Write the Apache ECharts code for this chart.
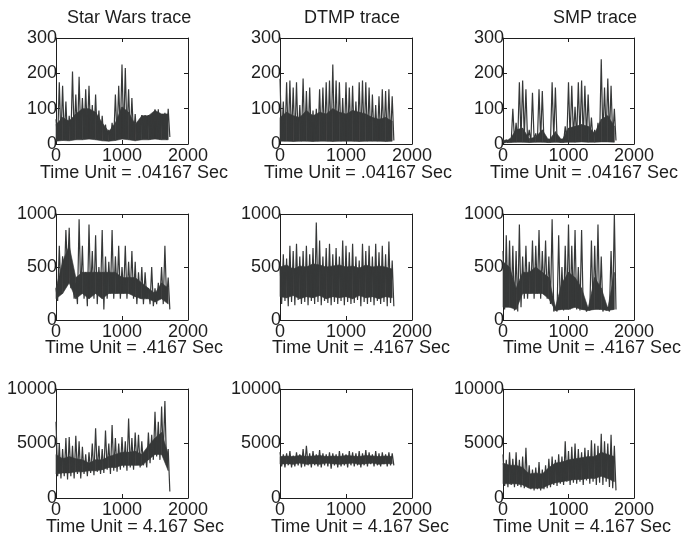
<!DOCTYPE html>
<html>
<head>
<meta charset="utf-8">
<script src="https://cdn.jsdelivr.net/npm/echarts@6/dist/echarts.min.js"></script>
<style>
  html, body { margin: 0; padding: 0; background: #fff; }
  #chart { width: 686px; height: 539px; }
</style>
</head>
<body>
<div id="chart"></div>
<script>
// spike samples, one every STEP time units (peak / trough alternating)
const STEP = 25;
// the solid body of each trace (lower / upper edge), one every CORE_STEP time units
const CORE_STEP = 100;

const columnTitles = ['Star Wars trace', 'DTMP trace', 'SMP trace'];
const timeUnits = ['Time Unit = .04167 Sec', 'Time Unit = .4167 Sec', 'Time Unit = 4.167 Sec'];
const yMax = [300, 1000, 10000];
const yInterval = [100, 500, 5000];
const xMax = 2000;
const xInterval = 1000;

// row 1: .04167 sec
const starWars1 = [70, 10, 175, 12, 165, 15, 120, 10, 80, 12, 205, 20, 140, 15, 190, 25, 130, 20, 155, 30,
  165, 25, 110, 20, 140, 20, 95, 15, 80, 12, 55, 10, 40, 10, 60, 15, 140, 20, 165, 30,
  225, 25, 215, 30, 155, 20, 130, 20, 85, 12, 50, 12, 82, 14, 82, 14, 82, 12, 85, 14,
  98, 15, 98, 12, 85, 15, 88, 12, 100, 20];
const starWars1Lo = [8, 10, 9, 12, 12, 14, 12, 9, 8, 10, 14, 12, 9, 12, 12, 14, 12, 12];
const starWars1Hi = [55, 75, 65, 85, 100, 100, 90, 60, 35, 60, 105, 90, 55, 80, 80, 95, 85, 85];
const dtmp1 = [185, 10, 120, 8, 175, 10, 180, 12, 160, 8, 175, 10, 110, 8, 185, 12, 150, 10, 160, 8,
  95, 10, 100, 8, 155, 12, 160, 10, 175, 8, 180, 10, 225, 12, 180, 10, 175, 8, 130, 10,
  175, 12, 160, 10, 165, 8, 120, 10, 175, 12, 180, 10, 175, 8, 160, 10, 140, 12, 110, 8,
  135, 10, 155, 10, 150, 8, 155, 10, 135, 10];
const dtmp1Lo = [8, 8, 7, 8, 8, 7, 8, 8, 7, 8, 8, 8, 7, 8, 8, 8, 7, 8];
const dtmp1Hi = [75, 90, 80, 75, 95, 80, 90, 85, 100, 90, 85, 95, 90, 85, 75, 70, 75, 65];
const smp1 = [15, 3, 12, 4, 15, 5, 100, 10, 60, 8, 175, 15, 180, 20, 155, 10, 40, 5, 145, 10,
  30, 8, 155, 10, 150, 8, 20, 5, 15, 5, 175, 15, 160, 10, 20, 5, 15, 5, 50, 10,
  175, 15, 165, 20, 105, 15, 175, 20, 180, 15, 165, 20, 140, 15, 75, 10, 40, 8, 60, 15,
  240, 20, 160, 25, 185, 20, 165, 15, 100, 10];
const smp1Lo = [4, 4, 5, 5, 4, 5, 5, 4, 5, 4, 5, 5, 6, 5, 5, 6, 6, 5];
const smp1Hi = [10, 12, 40, 45, 15, 20, 40, 10, 35, 10, 45, 50, 55, 50, 30, 70, 80, 50];

// row 2: .4167 sec
const starWars2 = [300, 180, 700, 250, 600, 350, 850, 450, 870, 300, 420, 200, 350, 150, 950, 250, 700, 200, 450, 130,
  900, 250, 650, 200, 800, 150, 500, 250, 850, 100, 600, 200, 550, 250, 850, 200, 600, 250, 700, 200,
  500, 250, 700, 200, 550, 250, 650, 200, 550, 150, 450, 200, 500, 150, 450, 200, 300, 150, 500, 130,
  300, 150, 350, 200, 500, 150, 700, 200, 400, 100];
const starWars2Lo = [200, 250, 350, 200, 250, 200, 250, 200, 250, 250, 250, 250, 220, 200, 200, 170, 200, 150];
const starWars2Hi = [300, 550, 700, 400, 450, 450, 450, 450, 450, 450, 400, 400, 400, 350, 300, 250, 350, 300];
const dtmp2 = [550, 150, 620, 180, 580, 130, 700, 170, 650, 140, 720, 190, 600, 150, 650, 170, 700, 140, 620, 180,
  680, 150, 920, 170, 750, 140, 600, 180, 680, 160, 720, 140, 620, 170, 680, 150, 600, 180, 750, 140,
  700, 170, 640, 150, 720, 160, 600, 190, 560, 130, 720, 170, 650, 150, 700, 170, 600, 140, 720, 180,
  640, 150, 700, 170, 620, 130, 740, 160, 560, 130];
const dtmp2Lo = [220, 210, 230, 200, 220, 210, 230, 200, 220, 210, 220, 200, 230, 210, 220, 200, 220, 210];
const dtmp2Hi = [500, 520, 480, 510, 500, 530, 520, 500, 510, 520, 500, 510, 490, 520, 500, 510, 500, 480];
const smp2 = [650, 100, 800, 150, 750, 120, 700, 90, 650, 80, 900, 120, 600, 200, 700, 200, 550, 250, 750, 200,
  700, 250, 850, 200, 650, 250, 750, 200, 600, 150, 950, 80, 120, 80, 800, 100, 500, 90, 700, 120,
  900, 100, 700, 150, 850, 100, 500, 90, 850, 100, 150, 80, 120, 90, 750, 100, 700, 120, 900, 100,
  600, 80, 150, 90, 120, 80, 650, 100, 1000, 100];
const smp2Lo = [120, 120, 100, 250, 250, 250, 250, 200, 90, 100, 100, 120, 100, 90, 100, 100, 90, 100];
const smp2Hi = [550, 500, 300, 450, 450, 500, 450, 400, 120, 350, 450, 400, 300, 110, 400, 300, 110, 450];

// row 3: 4.167 sec
const starWars3 = [7000, 2000, 5000, 1800, 4500, 2000, 5500, 1700, 5600, 2000, 4800, 1800, 5700, 2200, 5200, 1800, 4700, 2200, 4000, 2000,
  4200, 2300, 5000, 2100, 6400, 2400, 4800, 2200, 4500, 2300, 6200, 2600, 5000, 2200, 6700, 2500, 5500, 2400, 5000, 2600,
  5600, 2800, 5200, 2500, 7300, 2800, 5500, 2600, 6000, 3000, 5800, 2800, 5200, 3000, 4000, 2800, 6000, 3200, 5800, 3500,
  7900, 3800, 7000, 3500, 8400, 4000, 8900, 3000, 4500, 600];
const starWars3Lo = [2200, 2300, 2300, 2400, 2400, 2500, 2500, 2600, 2800, 2800, 3000, 3000, 3000, 3000, 3500, 4000, 4000, 2500];
const starWars3Hi = [4000, 3600, 3800, 3600, 3500, 3200, 3500, 3500, 3800, 4000, 4200, 4200, 4300, 4000, 4800, 5500, 6000, 4000];
const dtmp3 = [4200, 2900, 4000, 2800, 4100, 3000, 4300, 2800, 3900, 2900, 4200, 3000, 4000, 2800, 4500, 2900, 4800, 3000, 4100, 2800,
  4300, 3000, 4000, 2900, 4400, 2800, 4100, 3000, 4000, 2900, 4200, 2700, 4100, 3000, 4000, 2800, 4300, 2900, 4100, 3000,
  4000, 2800, 4300, 3000, 4200, 2900, 4100, 3000, 4300, 2800, 4100, 3000, 4400, 2900, 4200, 3100, 4000, 2900, 4300, 3000,
  4100, 2900, 4200, 3100, 4000, 2900, 4200, 3000, 4100, 3000];
const dtmp3Lo = [3100, 3150, 3100, 3200, 3100, 3150, 3100, 3200, 3150, 3100, 3150, 3200, 3100, 3150, 3200, 3100, 3150, 3150];
const dtmp3Hi = [3800, 3850, 3800, 3900, 3800, 3850, 3900, 3800, 3850, 3800, 3900, 3850, 3800, 3900, 3850, 3800, 3850, 3800];
const smp3 = [4000, 1100, 3500, 1000, 4200, 1200, 3600, 1000, 4200, 1100, 3500, 1000, 3800, 900, 4600, 1000, 3000, 800, 2600, 700,
  2800, 800, 3300, 700, 2600, 800, 3000, 900, 3600, 1000, 3800, 1200, 3500, 1100, 4000, 1300, 3800, 1200, 5200, 1500,
  4300, 1200, 4700, 1400, 5000, 1300, 4500, 1500, 4200, 1200, 4600, 1600, 4400, 1300, 5300, 1500, 5000, 1200, 4800, 1400,
  5900, 1200, 5200, 1500, 5000, 1000, 5800, 900, 4800, 700];
const smp3Lo = [1300, 1300, 1300, 1200, 900, 900, 900, 1200, 1400, 1500, 1600, 1700, 1700, 1800, 1800, 2000, 1800, 1500];
const smp3Hi = [3200, 3000, 3000, 2800, 2200, 2300, 2200, 2800, 3200, 3300, 3500, 3600, 3700, 3800, 3800, 4200, 4000, 3800];

const traces = [
  [starWars1, dtmp1, smp1],
  [starWars2, dtmp2, smp2],
  [starWars3, dtmp3, smp3]
];
const coreLo = [
  [starWars1Lo, dtmp1Lo, smp1Lo],
  [starWars2Lo, dtmp2Lo, smp2Lo],
  [starWars3Lo, dtmp3Lo, smp3Lo]
];
const coreHi = [
  [starWars1Hi, dtmp1Hi, smp1Hi],
  [starWars2Hi, dtmp2Hi, smp2Hi],
  [starWars3Hi, dtmp3Hi, smp3Hi]
];

const colLeft = [56, 280, 503];
const colWidth = [132, 132, 131];
const rowTop = [38, 214, 389];
const rowHeight = [106, 106, 109];
const titleLeft = [67, 304, 553];
const unitLeft = [[40, 264, 490], [45, 272, 503], [46, 271, 493]];
const unitTop = [164, 339, 518];

const FONT = '"Liberation Sans", Arial, Helvetica, sans-serif';
const INK = '#1e1e1e';
const TRACE = '#363838';

const chart = echarts.init(document.getElementById('chart'), null, { renderer: 'canvas' });

const grids = [], xAxes = [], yAxes = [], series = [], titles = [];

// one quad per pair of neighbouring body samples
function renderBand(params, api) {
  const a = api.coord([api.value(0), api.value(1)]);
  const b = api.coord([api.value(3), api.value(4)]);
  const c = api.coord([api.value(3), api.value(5)]);
  const d = api.coord([api.value(0), api.value(2)]);
  return {
    type: 'polygon',
    shape: { points: [a, b, c, d] },
    style: { fill: TRACE, stroke: TRACE, lineWidth: 0.6 }
  };
}

columnTitles.forEach((t, c) => {
  titles.push({
    text: t, left: titleLeft[c], top: 9, padding: 0,
    textStyle: { fontFamily: FONT, fontSize: 18, fontWeight: 'normal', color: INK }
  });
});

for (let r = 0; r < 3; r++) {
  for (let c = 0; c < 3; c++) {
    const k = r * 3 + c;
    grids.push({
      left: colLeft[c], top: rowTop[r], width: colWidth[c], height: rowHeight[r],
      containLabel: false
    });
    const tick = { show: true, inside: true, length: 4, lineStyle: { color: INK, width: 1 } };
    const line = { show: true, onZero: false, lineStyle: { color: INK, width: 1 } };
    xAxes.push({
      gridIndex: k, type: 'value', min: 0, max: xMax, interval: xInterval, position: 'bottom',
      axisLine: line, axisTick: tick, splitLine: { show: false },
      axisLabel: { fontFamily: FONT, fontSize: 18, color: INK, margin: 3, formatter: v => String(v) }
    });
    xAxes.push({
      gridIndex: k, type: 'value', min: 0, max: xMax, interval: xInterval, position: 'top',
      axisLine: line, axisTick: tick, splitLine: { show: false }, axisLabel: { show: false }
    });
    yAxes.push({
      gridIndex: k, type: 'value', min: 0, max: yMax[r], interval: yInterval[r], position: 'left',
      axisLine: line, axisTick: tick, splitLine: { show: false },
      axisLabel: { fontFamily: FONT, fontSize: 18, color: INK, margin: -1, formatter: v => String(v) }
    });
    yAxes.push({
      gridIndex: k, type: 'value', min: 0, max: yMax[r], interval: yInterval[r], position: 'right',
      axisLine: line, axisTick: tick, splitLine: { show: false }, axisLabel: { show: false }
    });

    const lo = coreLo[r][c], hi = coreHi[r][c];
    series.push({
      type: 'custom', xAxisIndex: 2 * k, yAxisIndex: 2 * k, z: 1,
      renderItem: renderBand,
      encode: { x: [0, 3], y: [1, 2, 4, 5] },
      data: lo.slice(0, -1).map((v, i) => [i * CORE_STEP, v, hi[i], (i + 1) * CORE_STEP, lo[i + 1], hi[i + 1]])
    });
    // spikes
    series.push({
      type: 'line', xAxisIndex: 2 * k, yAxisIndex: 2 * k,
      data: traces[r][c].map((v, i) => [i * STEP, v]),
      symbol: 'none', sampling: false, z: 2,
      lineStyle: { color: TRACE, width: 1.2 }
    });
    titles.push({
      text: timeUnits[r], left: unitLeft[r][c], top: unitTop[r], padding: 0,
      textStyle: { fontFamily: FONT, fontSize: 18, fontWeight: 'normal', color: INK }
    });
  }
}

chart.setOption({
  animation: false,
  backgroundColor: '#fff',
  title: titles,
  grid: grids,
  xAxis: xAxes,
  yAxis: yAxes,
  series: series
});
</script>
</body>
</html>
